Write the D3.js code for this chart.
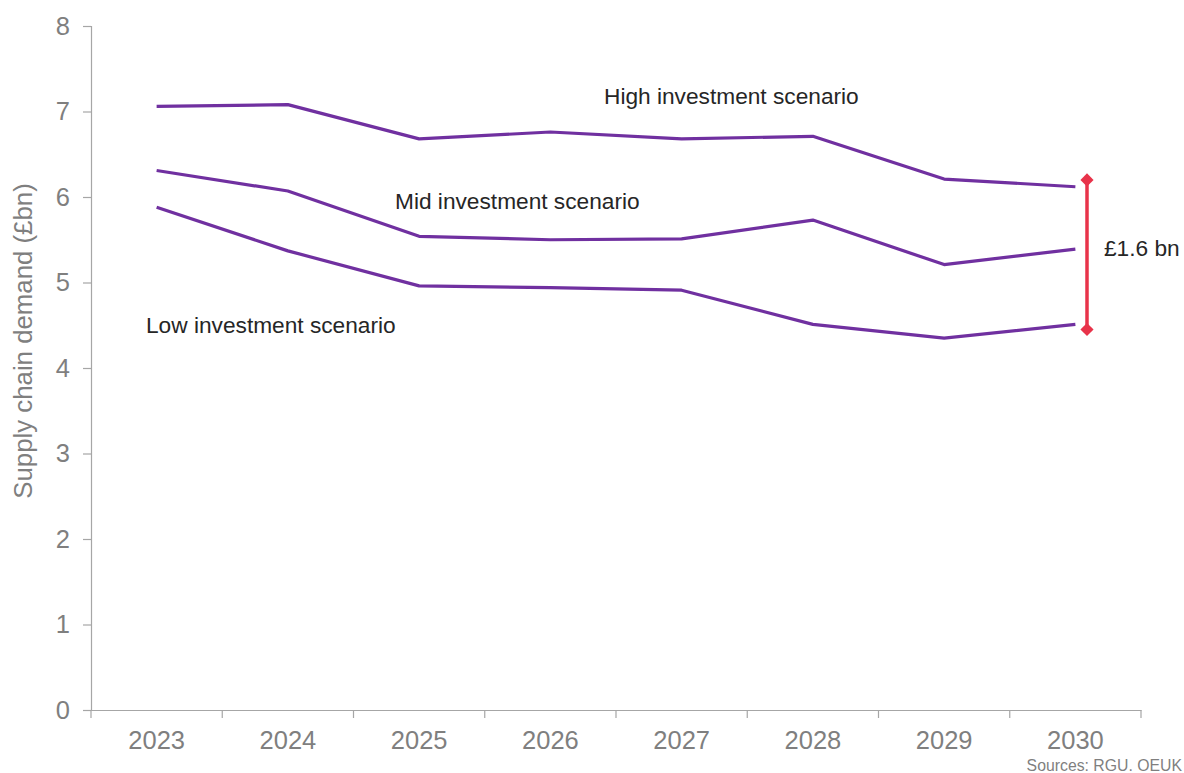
<!DOCTYPE html>
<html>
<head>
<meta charset="utf-8">
<script src="https://cdn.jsdelivr.net/npm/d3@7"></script>
<style>
  html, body { margin: 0; padding: 0; background: #fff; overflow: hidden; }
  svg { display: block; font-family: "Liberation Sans", Arial, sans-serif; }
</style>
</head>
<body>
<svg id="chart" width="1184" height="773"></svg>
<script>
const years = ["2023", "2024", "2025", "2026", "2027", "2028", "2029", "2030"];
const highValues = [7.06, 7.08, 6.68, 6.76, 6.68, 6.71, 6.21, 6.12];
const midValues  = [6.31, 6.07, 5.54, 5.50, 5.51, 5.73, 5.21, 5.39];
const lowValues  = [5.88, 5.37, 4.96, 4.94, 4.91, 4.51, 4.35, 4.51];
const yTicks = [0, 1, 2, 3, 4, 5, 6, 7, 8];
const seriesLabels = ["High investment scenario", "Mid investment scenario", "Low investment scenario"];
const gapTop = 6.20, gapBottom = 4.45;
const gapLabel = "£1.6 bn";
const yTitle = "Supply chain demand (£bn)";
const sourceText = "Sources: RGU. OEUK";

(function () {
const svg = d3.select("#chart");
const mLeft = 91, mRight = 1141, mTop = 26, mBottom = 710;

const x = d3.scaleBand().domain(years).range([mLeft, mRight]).paddingInner(0).paddingOuter(0);
const y = d3.scaleLinear().domain([0, 8]).range([mBottom, mTop]);
const cx = d => x(d) + x.bandwidth() / 2;

const axisColor = "#a6a6a6";
const tickText = "#7f7f7f";

// Y axis
const yAxis = svg.append("g").attr("transform", `translate(${mLeft},0)`)
  .call(d3.axisLeft(y).tickValues(yTicks).tickSize(8).tickPadding(13).tickFormat(d3.format("d")));
yAxis.selectAll("path, line").attr("stroke", axisColor).attr("stroke-width", 1.2);
yAxis.selectAll("text").attr("fill", tickText).attr("font-size", 25.5)
  .attr("font-family", "Liberation Sans, Arial, sans-serif");

// X axis
const xAxis = svg.append("g").attr("transform", `translate(0,${mBottom})`)
  .call(d3.axisBottom(x).tickSize(0).tickSizeOuter(0).tickPadding(0));
xAxis.select("path").attr("stroke", axisColor).attr("stroke-width", 1.2);
xAxis.selectAll("text").attr("fill", tickText).attr("font-size", 25.5)
  .attr("font-family", "Liberation Sans, Arial, sans-serif")
  .attr("dy", null).attr("y", 39);
const boundaries = years.map(d => x(d)).concat([x.range()[1]]);
xAxis.selectAll("line.bnd").data(boundaries).enter().append("line")
  .attr("class", "bnd").attr("x1", d => d).attr("x2", d => d)
  .attr("y1", 0).attr("y2", 8).attr("stroke", axisColor).attr("stroke-width", 1.2);

// Y axis title
svg.append("text")
  .attr("transform", `translate(32,${(mTop + mBottom) / 2 - 27}) rotate(-90)`)
  .attr("text-anchor", "middle")
  .attr("fill", tickText).attr("font-size", 25.8)
  .text(yTitle);

// Lines
const line = d3.line().x((d, i) => cx(years[i])).y(d => y(d));
[highValues, midValues, lowValues].forEach(vals => {
  svg.append("path").datum(vals)
    .attr("d", line)
    .attr("fill", "none")
    .attr("stroke", "#7030a0")
    .attr("stroke-width", 3.2)
    .attr("stroke-linejoin", "round");
});

// Series labels
const labelPos = [
  { x: 604, y: 104 },
  { x: 395, y: 209 },
  { x: 146, y: 333 }
];
seriesLabels.forEach((t, i) => {
  svg.append("text").attr("x", labelPos[i].x).attr("y", labelPos[i].y)
    .attr("fill", "#262626").attr("font-size", 22.7).text(t);
});

// Gap bracket
const bx = 1087;
svg.append("line").attr("x1", bx).attr("x2", bx)
  .attr("y1", y(gapTop)).attr("y2", y(gapBottom))
  .attr("stroke", "#e8334a").attr("stroke-width", 3.5);
[gapTop, gapBottom].forEach(v => {
  svg.append("path")
    .attr("d", d3.symbol().type(d3.symbolDiamond2).size(110)())
    .attr("transform", `translate(${bx},${y(v)})`)
    .attr("fill", "#e8334a");
});
svg.append("text").attr("x", 1104).attr("y", 256)
  .attr("fill", "#262626").attr("font-size", 22.7).text(gapLabel);

// Source
svg.append("text").attr("x", 1182).attr("y", 771).attr("text-anchor", "end")
  .attr("fill", "#7f7f7f").attr("font-size", 15.8).text(sourceText);
})();
</script>
</body>
</html>
